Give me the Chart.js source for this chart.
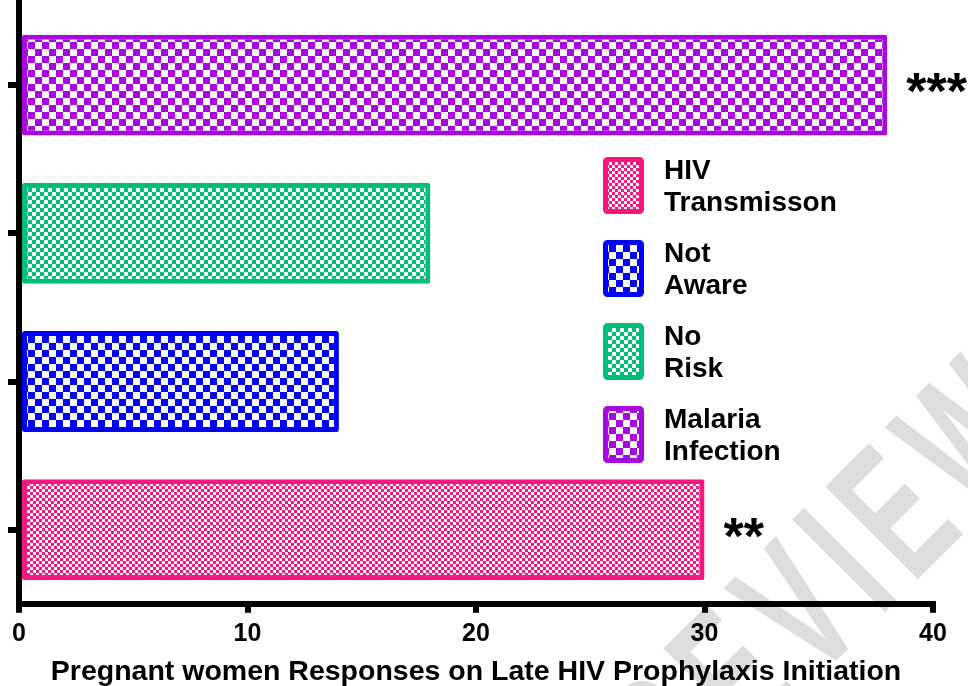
<!DOCTYPE html>
<html>
<head>
<meta charset="utf-8">
<script src="https://cdn.jsdelivr.net/npm/chart.js@4"></script>
<style>
    html, body { margin: 0; padding: 0; background: #ffffff; }
    #wrap { width: 968px; height: 686px; position: relative; }
</style>
</head>
<body>
<div id="wrap"><canvas id="responseChart"></canvas></div>
<script>
// categories top to bottom (Chart.js puts the first label at the top)
const categories = ["Malaria Infection", "No Risk", "Not Aware", "HIV Transmisson"];
const responses = [38, 18, 14, 30];
const significance = ["***", "", "", "**"];
const barColors = ["#a808e0", "#00bf78", "#0000ff", "#f5167f"];
const checkerSizes = [7, 4, 7, 3];
const xTicks = [0, 10, 20, 30, 40];
const xTitle = "Pregnant women Responses on Late HIV Prophylaxis Initiation";

const FONT = "'Liberation Sans', Arial, sans-serif";

// checkerboard fill, coloured squares on white
function makeChecker(color, size) {
    const c = document.createElement("canvas");
    c.width = size * 2;
    c.height = size * 2;
    const g = c.getContext("2d");
    g.fillStyle = "#ffffff";
    g.fillRect(0, 0, size * 2, size * 2);
    g.fillStyle = color;
    g.fillRect(0, 0, size, size);
    g.fillRect(size, size, size, size);
    return g.createPattern(c, "repeat");
}

const patterns = barColors.map((col, i) => makeChecker(col, checkerSizes[i]));

// grey watermark behind everything
const watermarkPlugin = {
    id: "watermark",
    beforeDraw(chart) {
        const ctx = chart.ctx;
        ctx.save();
        ctx.translate(682, 815);
        ctx.rotate(-45 * Math.PI / 180);
        ctx.scale(0.6, 1);
        ctx.fillStyle = "#dddddd";
        ctx.font = "bold 190px " + FONT;
        ctx.letterSpacing = "25px";
        ctx.textBaseline = "alphabetic";
        ctx.fillText("REVIEW", 0, 0);
        ctx.restore();
    }
};

// stars next to bars, legend inside plot, top of y axis line
const extrasPlugin = {
    id: "extras",
    afterDraw(chart) {
        const ctx = chart.ctx;
        const xs = chart.scales.x;
        const ys = chart.scales.y;
        ctx.save();

        // star annotations
        ctx.fillStyle = "#000000";
        ctx.font = "bold 52px " + FONT;
        ctx.textAlign = "left";
        ctx.textBaseline = "alphabetic";
        significance.forEach((s, i) => {
            if (!s) return;
            const x = xs.getPixelForValue(responses[i]) + 19;
            const y = ys.getPixelForValue(i) + 24;
            ctx.fillText(s, x, y);
        });

        // legend, bottom category first
        const boxX = 603, boxW = 41, boxH = 57;
        const textX = 664;
        let top = 157;
        ctx.font = "bold 28px " + FONT;
        ctx.textBaseline = "middle";
        for (let i = categories.length - 1; i >= 0; i--) {
            ctx.fillStyle = patterns[i];
            ctx.strokeStyle = barColors[i];
            ctx.lineWidth = 5;
            ctx.beginPath();
            ctx.roundRect(boxX + 2.5, top + 2.5, boxW - 5, boxH - 5, 2);
            ctx.fill();
            ctx.stroke();
            ctx.fillStyle = "#000000";
            const words = categories[i].split(" ");
            ctx.fillText(words[0], textX, top + 14);
            ctx.fillText(words.slice(1).join(" "), textX, top + 46);
            top += 83;
        }

        // y axis runs up to the top edge
        ctx.fillStyle = "#000000";
        ctx.fillRect(chart.chartArea.left - 3, 0, 6, chart.chartArea.top + 2);
        ctx.restore();
    }
};

const ctx = document.getElementById("responseChart");
new Chart(ctx, {
    type: "bar",
    data: {
        labels: categories,
        datasets: [{
            label: "Responses",
            data: responses,
            backgroundColor: patterns,
            borderColor: barColors,
            borderWidth: 5,
            borderSkipped: false,
            borderRadius: 2,
            categoryPercentage: 1,
            barPercentage: 0.68
        }]
    },
    options: {
        indexAxis: "y",
        responsive: true,
        maintainAspectRatio: false,
        animation: false,
        layout: { padding: { top: 11, right: 35, left: 8, bottom: -3 } },
        plugins: {
            legend: { display: false },
            tooltip: { enabled: false }
        },
        scales: {
            x: {
                type: "linear",
                min: 0,
                max: 40,
                afterBuildTicks: (axis) => {
                    axis.ticks = xTicks.map(v => ({ value: v }));
                },
                border: { display: true, color: "#000000", width: 6 },
                grid: {
                    drawOnChartArea: false,
                    color: "#000000",
                    lineWidth: 6,
                    tickLength: 9
                },
                ticks: {
                    color: "#000000",
                    padding: 6,
                    font: { family: FONT, size: 25, weight: "bold" }
                },
                title: {
                    display: true,
                    text: xTitle,
                    color: "#000000",
                    padding: { top: 0, bottom: 0 },
                    font: { family: FONT, size: 28.5, weight: "bold" }
                }
            },
            y: {
                border: { display: true, color: "#000000", width: 6 },
                grid: {
                    offset: false,
                    drawOnChartArea: false,
                    color: "#000000",
                    lineWidth: 6,
                    tickLength: 11
                },
                ticks: { display: false }
            }
        }
    },
    plugins: [watermarkPlugin, extrasPlugin]
});
</script>
</body>
</html>
